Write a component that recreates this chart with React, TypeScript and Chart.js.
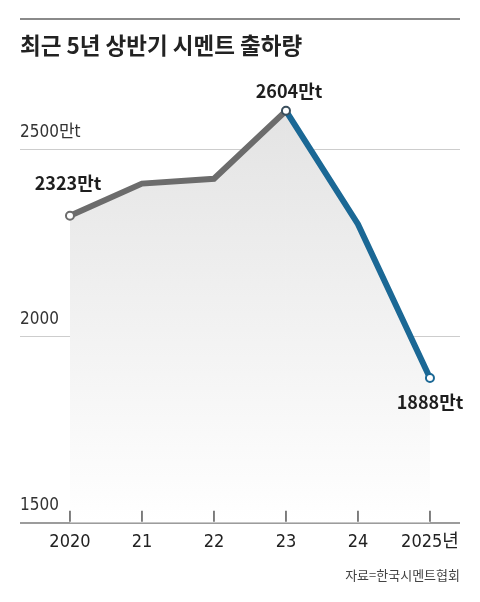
import React, { useEffect, useRef } from 'react';
import { Chart, registerables, Plugin } from 'chart.js';

Chart.register(...registerables);

// 최근 5년 상반기 시멘트 출하량 (만t)
const years = ['2020', '21', '22', '23', '24', '2025년'];
const shipments = [2323, 2409, 2422, 2604, 2300, 1888];
const yTicks = [1500, 2000, 2500];
const labeledIdx = [0, 3, 5];

const GRAY = '#6c6c6c';
const BLUE = '#1b6895';
const NARROW = "'Liberation Sans Narrow', 'DejaVu Sans Condensed', Roboto, 'Noto Sans CJK KR', sans-serif";
const CJK = "'Noto Sans CJK KR', sans-serif";

// top rule + small tick marks above the baseline
const decorPlugin: Plugin<'line'> = {
  id: 'decor',
  beforeDraw(chart) {
    const { ctx, chartArea } = chart;
    ctx.save();
    ctx.strokeStyle = '#8a8a8a';
    ctx.lineWidth = 2;
    ctx.beginPath();
    ctx.moveTo(chartArea.left, 19);
    ctx.lineTo(chartArea.right, 19);
    ctx.stroke();
    ctx.restore();
  },
  afterDraw(chart) {
    const { ctx, chartArea, scales } = chart;
    ctx.save();
    ctx.strokeStyle = '#555';
    ctx.lineWidth = 1.5;
    years.forEach((_, i) => {
      const x = scales.x.getPixelForValue(i);
      ctx.beginPath();
      ctx.moveTo(x, chartArea.bottom - 12);
      ctx.lineTo(x, chartArea.bottom - 1);
      ctx.stroke();
    });
    ctx.restore();
  },
};

// value labels next to the marked points
const labelOffsets = [
  { dx: -2, dy: -33 },
  { dx: 3, dy: -20 },
  { dx: 0, dy: 24 },
];
const valueLabelPlugin: Plugin<'line'> = {
  id: 'valueLabels',
  afterDatasetsDraw(chart) {
    const { ctx } = chart;
    const meta = chart.getDatasetMeta(0);
    ctx.save();
    ctx.font = `bold 18px ${CJK}`;
    ctx.fillStyle = '#1e1e1e';
    ctx.textAlign = 'center';
    ctx.textBaseline = 'middle';
    labeledIdx.forEach((idx, k) => {
      const pt = meta.data[idx];
      ctx.fillText(`${shipments[idx]}만t`, pt.x + labelOffsets[k].dx, pt.y + labelOffsets[k].dy);
    });
    ctx.restore();
  },
};

export default function App() {
  const chartRef = useRef<HTMLCanvasElement | null>(null);

  useEffect(() => {
    document.body.style.margin = '0';
    if (!chartRef.current) return;
    const ctx = chartRef.current.getContext('2d');
    if (!ctx) return;

    const chart = new Chart(ctx, {
      type: 'line',
      data: {
        datasets: [
          {
            data: shipments.map((v, i) => ({ x: i, y: v })),
            borderWidth: 6,
            borderColor: GRAY,
            segment: {
              borderColor: (c) => (c.p0DataIndex >= 3 ? BLUE : GRAY),
            },
            fill: 'start',
            backgroundColor: (c) => {
              const area = c.chart.chartArea;
              if (!area) return 'rgba(0,0,0,0)';
              const g = c.chart.ctx.createLinearGradient(0, area.top + 30, 0, area.bottom);
              g.addColorStop(0, '#e3e3e3');
              g.addColorStop(1, '#ffffff');
              return g;
            },
            pointRadius: shipments.map((_, i) => (labeledIdx.includes(i) ? 4 : 0)),
            pointHoverRadius: 0,
            pointBackgroundColor: '#ffffff',
            pointBorderColor: shipments.map((_, i) => (i >= 4 ? BLUE : i === 3 ? '#3a4e5c' : GRAY)),
            pointBorderWidth: 2,
            tension: 0,
          },
        ],
      },
      options: {
        responsive: false,
        animation: false,
        layout: { padding: { left: 20, right: 20, top: 0, bottom: 0 } },
        plugins: {
          legend: { display: false },
          tooltip: { enabled: false },
          title: {
            display: true,
            text: '최근 5년 상반기 시멘트 출하량',
            align: 'start',
            color: '#222',
            font: { size: 22.5, weight: 'bold', family: CJK },
            padding: { top: 31.5, bottom: 16.5 },
          },
          subtitle: {
            display: true,
            position: 'bottom',
            text: '자료=한국시멘트협회',
            align: 'end',
            color: '#444',
            font: { size: 13, family: CJK },
            padding: { top: 13, bottom: 19 },
          },
        },
        scales: {
          x: {
            type: 'linear',
            min: -0.694,
            max: 5.417,
            afterBuildTicks: (scale) => {
              scale.ticks = years.map((_, i) => ({ value: i }));
            },
            ticks: {
              callback: (_v, i) => years[i],
              color: '#222',
              font: { size: 18, family: NARROW },
              padding: 1,
              maxRotation: 0,
              autoSkip: false,
            },
            grid: { display: false },
            border: { display: false },
          },
          y: {
            min: 1500,
            max: 2700,
            afterBuildTicks: (scale) => {
              scale.ticks = yTicks.map((v) => ({ value: v }));
            },
            ticks: {
              mirror: true,
              padding: 0,
              labelOffset: -17,
              color: '#333',
              font: { size: 17, family: NARROW },
              callback: (v) => (v === 2500 ? `${v}만t` : `${v}`),
            },
            grid: {
              drawTicks: false,
              color: (c) => (c.tick && c.tick.value === 1500 ? '#9c9c9c' : '#cdcdcd'),
              lineWidth: (c) => (c.tick && c.tick.value === 1500 ? 2 : 1),
            },
            border: { display: false },
          },
        },
      },
      plugins: [decorPlugin, valueLabelPlugin],
    });

    return () => {
      chart.destroy();
    };
  }, []);

  return (
    <div style={{ width: 480, height: 602, background: '#fff' }}>
      <canvas ref={chartRef} width={480} height={602} />
    </div>
  );
}
